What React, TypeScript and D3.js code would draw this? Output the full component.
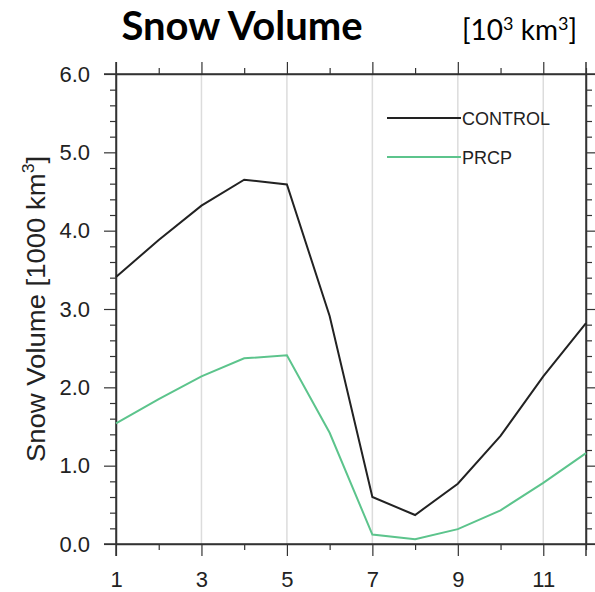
import React, { useEffect, useRef } from 'react';
import * as d3 from 'd3';

const months = [1, 2, 3, 4, 5, 6, 7, 8, 9, 10, 11, 12];
const controlValues = [3.41, 3.88, 4.32, 4.65, 4.59, 2.91, 0.6, 0.37, 0.77, 1.38, 2.14, 2.82];
const prcpValues = [1.54, 1.85, 2.14, 2.37, 2.41, 1.42, 0.12, 0.06, 0.19, 0.43, 0.78, 1.16];
const yMajorTicks = [0, 1, 2, 3, 4, 5, 6];
const xMajorTicks = [1, 3, 5, 7, 9, 11];
const xGridTicks = [3, 5, 7, 9, 11];

const series = [
  { name: 'CONTROL', values: controlValues, color: '#222222' },
  { name: 'PRCP', values: prcpValues, color: '#5cc48c' }
];

const W = 595;
const H = 592;
const margin = { left: 116, right: 9, top: 74, bottom: 48 };
const FONT = '"Liberation Sans", Arial, sans-serif';

const App: React.FC = () => {
  const svgRef = useRef<SVGSVGElement>(null);

  useEffect(() => {
    if (!svgRef.current) return;
    const svg = d3.select(svgRef.current);
    svg.selectAll('*').remove();

    const x = d3.scaleLinear().domain([1, 12]).range([margin.left, W - margin.right]);
    const y = d3.scaleLinear().domain([0, 6]).range([H - margin.bottom, margin.top]);

    const yMinor = d3.range(0, 6.01, 0.2).filter(v => Math.abs(v - Math.round(v)) > 1e-6);
    const xMinor = months.filter(m => m % 2 === 0);

    // vertical grid lines
    svg.append('g')
      .selectAll('line')
      .data(xGridTicks)
      .enter()
      .append('line')
      .attr('x1', d => x(d))
      .attr('x2', d => x(d))
      .attr('y1', y(0))
      .attr('y2', y(6))
      .style('stroke', '#dcdcdc')
      .style('stroke-width', 1.5);

    const styleAxis = (g: d3.Selection<SVGGElement, unknown, null, undefined>) => {
      g.attr('font-size', 22).attr('font-family', FONT);
      g.selectAll('path').style('stroke', '#333').style('stroke-width', 1.5);
      g.selectAll('line').style('stroke', '#333').style('stroke-width', 1.2);
      g.selectAll('text')
        .style('font-family', FONT)
        .style('font-size', '22px')
        .style('fill', '#222');
    };

    // minor ticks
    const minor = (axis: d3.Axis<d3.NumberValue>, tr: string) => {
      const g = svg.append('g').attr('transform', tr).call(axis.tickSizeOuter(0).tickFormat(() => ''));
      g.select('path').remove();
      styleAxis(g);
    };
    minor(d3.axisLeft(y).tickValues(yMinor).tickSizeInner(6), `translate(${margin.left},0)`);
    minor(d3.axisRight(y).tickValues(yMinor).tickSizeInner(6), `translate(${W - margin.right},0)`);
    minor(d3.axisBottom(x).tickValues(xMinor).tickSizeInner(6), `translate(0,${H - margin.bottom})`);
    minor(d3.axisTop(x).tickValues(xMinor).tickSizeInner(6), `translate(0,${margin.top})`);

    // major axes
    const left = svg.append('g').attr('transform', `translate(${margin.left},0)`)
      .call(d3.axisLeft(y).tickValues(yMajorTicks).tickSizeInner(12).tickSizeOuter(0).tickPadding(14).tickFormat(d3.format('.1f')));
    styleAxis(left);
    const right = svg.append('g').attr('transform', `translate(${W - margin.right},0)`)
      .call(d3.axisRight(y).tickValues(yMajorTicks).tickSizeInner(12).tickSizeOuter(0).tickFormat(() => ''));
    styleAxis(right);
    const bottom = svg.append('g').attr('transform', `translate(0,${H - margin.bottom})`)
      .call(d3.axisBottom(x).tickValues(xMajorTicks).tickSizeInner(12).tickSizeOuter(0).tickPadding(15).tickFormat(d3.format('d')));
    styleAxis(bottom);
    const top = svg.append('g').attr('transform', `translate(0,${margin.top})`)
      .call(d3.axisTop(x).tickValues(xMajorTicks).tickSizeInner(12).tickSizeOuter(0).tickFormat(() => ''));
    styleAxis(top);

    // axis lines run a bit past the corners like the original
    const frame = [
      [margin.left - 12, y(6), W, y(6)],
      [margin.left - 12, y(0), W, y(0)],
      [x(1), y(6) - 12, x(1), y(0) + 12],
      [x(12), y(6) - 12, x(12), y(0) + 12]
    ];
    frame.forEach(([x1, y1, x2, y2]) => {
      svg.append('line')
        .attr('x1', x1).attr('y1', y1).attr('x2', x2).attr('y2', y2)
        .style('stroke', '#333').style('stroke-width', 1.5);
    });

    // lines
    const line = d3.line<number>()
      .x((_, i) => x(months[i]))
      .y(d => y(d));

    series.forEach(s => {
      svg.append('path')
        .datum(s.values)
        .attr('d', line)
        .style('fill', 'none')
        .style('stroke', s.color)
        .style('stroke-width', 2);
    });

    // legend
    series.forEach((s, i) => {
      const ly = 118 + i * 39;
      svg.append('line')
        .attr('x1', 387).attr('x2', 461)
        .attr('y1', ly).attr('y2', ly)
        .style('stroke', s.color)
        .style('stroke-width', 2);
      svg.append('text')
        .attr('x', 462)
        .attr('y', ly + 6.5)
        .text(s.name)
        .style('font-family', FONT)
        .style('font-size', '18px')
        .style('fill', '#222');
    });

    // y label
    const yl = svg.append('text')
      .attr('transform', `translate(45,${(y(0) + y(6)) / 2}) rotate(-90) scale(1.1,1)`)
      .attr('text-anchor', 'middle')
      .style('font-family', FONT)
      .style('font-size', '25px')
      .style('fill', '#222');
    yl.append('tspan').text('Snow Volume [1000 km');
    yl.append('tspan').attr('dy', -11).style('font-size', '16px').text('3');
    yl.append('tspan').attr('dy', 11).text(']');

    // title
    svg.append('text')
      .attr('x', 242)
      .attr('y', 40)
      .attr('text-anchor', 'middle')
      .text('Snow Volume')
      .style('font-family', 'Lato, "Open Sans", sans-serif')
      .style('font-weight', 'bold')
      .style('font-size', '40px')
      .style('fill', '#000');

    const unit = svg.append('text')
      .attr('x', 462)
      .attr('y', 40)
      .style('font-family', 'Lato, "Open Sans", sans-serif')
      .style('font-size', '28px')
      .style('fill', '#000');
    unit.append('tspan').text('[10');
    unit.append('tspan').attr('dy', -10).style('font-size', '18px').text('3');
    unit.append('tspan').attr('dy', 10).text(' km');
    unit.append('tspan').attr('dy', -10).style('font-size', '18px').text('3');
    unit.append('tspan').attr('dy', 10).text(']');
  }, []);

  return (
    <svg
      ref={svgRef}
      width={W}
      height={H}
      style={{ position: 'absolute', left: 0, top: 0, background: '#fff' }}
    />
  );
};

export default App;
